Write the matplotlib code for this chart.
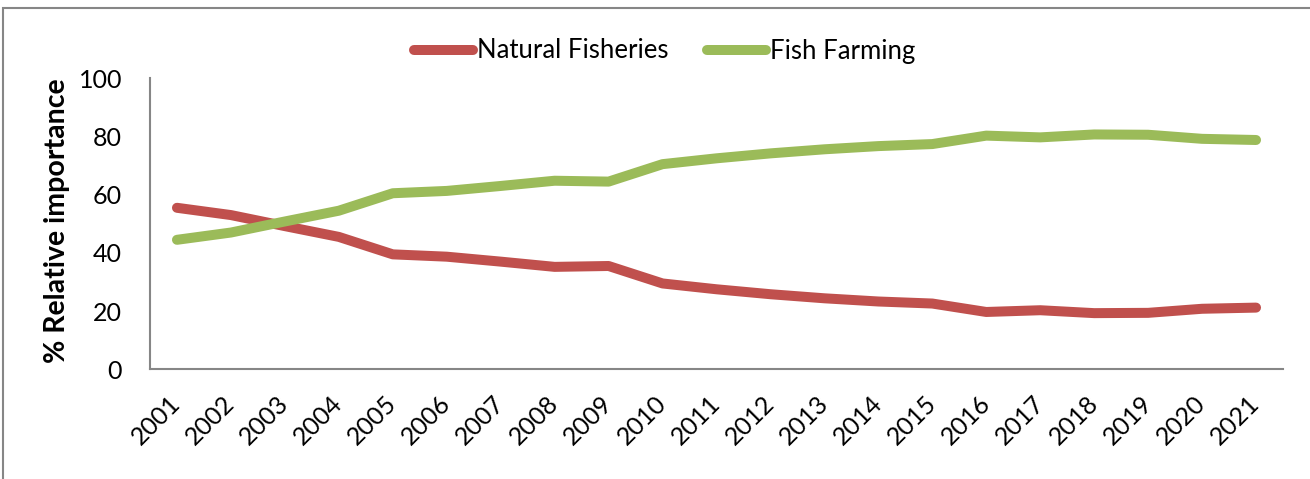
import matplotlib.pyplot as plt
from matplotlib.patches import Rectangle

years = [str(y) for y in range(2001, 2022)]

natural_fisheries = [55.5, 53.0, 49.2, 45.5, 39.5, 38.7, 37.0, 35.2, 35.5, 29.5, 27.5,
                     25.8, 24.4, 23.3, 22.6, 19.7, 20.3, 19.3, 19.4, 20.8, 21.2]
fish_farming = [44.5, 47.0, 50.8, 54.5, 60.5, 61.3, 63.0, 64.8, 64.5, 70.5, 72.5,
                74.2, 75.6, 76.7, 77.4, 80.3, 79.7, 80.7, 80.6, 79.2, 78.8]

y_ticks = [0, 20, 40, 60, 80, 100]

plt.rcParams['font.family'] = ['Lato', 'DejaVu Sans']

fig = plt.figure(figsize=(13.1, 4.79), dpi=100)
ax = fig.add_axes([150 / 1310, 1 - 369.3 / 479, 1133 / 1310, 291 / 479])

# chart frame (runs off the right and bottom edge)
fig.patches.append(Rectangle((3 / 1310, -0.1), 1.2, 1 - 8 / 479 + 0.1,
                             transform=fig.transFigure, fill=False,
                             edgecolor='#868686', linewidth=1.5))

x = range(len(years))
ax.plot(x, natural_fisheries, color='#C0504D', linewidth=7.2,
        solid_capstyle='round', solid_joinstyle='round', label='Natural Fisheries')
ax.plot(x, fish_farming, color='#9BBB59', linewidth=7.2,
        solid_capstyle='round', solid_joinstyle='round', label='Fish Farming')

ax.set_xlim(-0.5, len(years) - 0.5)
ax.set_ylim(0, 100)
ax.set_yticks(y_ticks)
ax.set_xticks(list(x))
ax.set_xticklabels(years, rotation=45, ha='right', va='center', rotation_mode='anchor')

for side in ['top', 'right']:
    ax.spines[side].set_visible(False)
for side in ['left', 'bottom']:
    ax.spines[side].set_color('#868686')
    ax.spines[side].set_linewidth(1.5)

ax.tick_params(axis='y', length=0, pad=20, labelsize=18)
ax.tick_params(axis='x', length=0, pad=22, labelsize=18)

ax.set_ylabel('% Relative importance', fontsize=20.5, fontweight='bold')
ax.yaxis.set_label_coords(-0.071, 0.51)

fig.legend(loc='center', bbox_to_anchor=(665 / 1310, 1 - 51 / 479), ncol=2,
           frameon=False, fontsize=18.5, handlelength=2.3, handletextpad=0.15,
           columnspacing=1.5)

fig.savefig('out.png', dpi=100)
